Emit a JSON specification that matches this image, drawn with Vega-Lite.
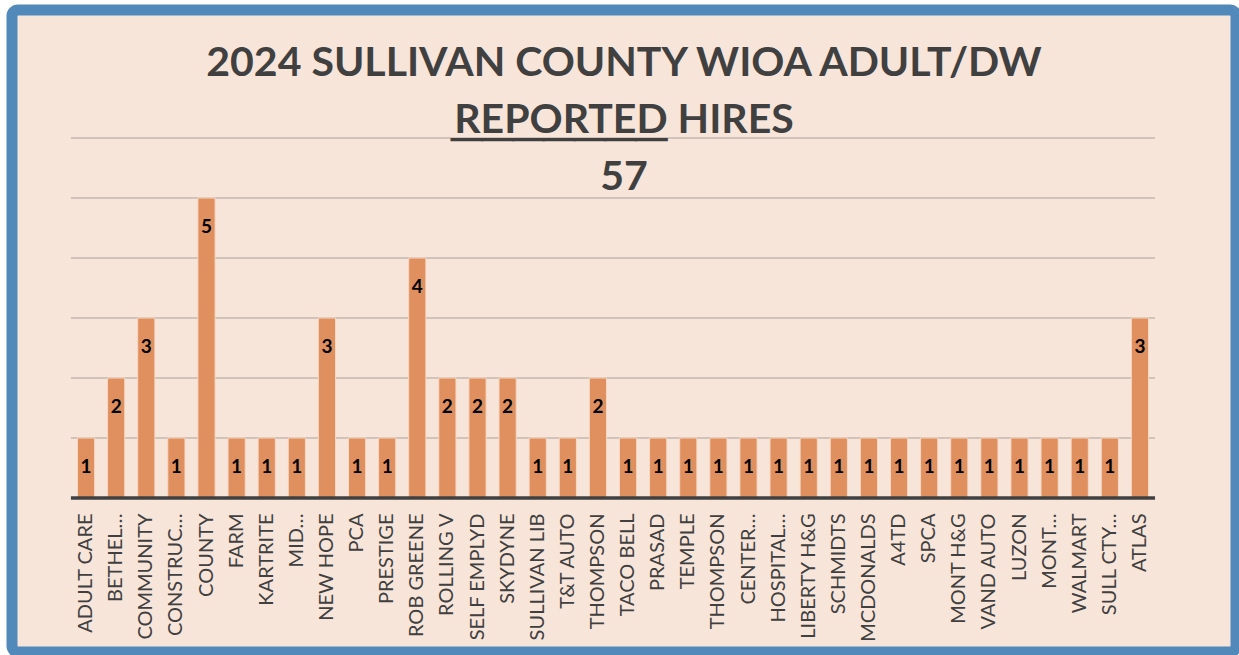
{
  "$schema": "https://vega.github.io/schema/vega-lite/v6.json",
  "width": 1224,
  "height": 642,
  "autosize": {"type": "none"},
  "padding": {"left": 12, "top": 10, "right": 3, "bottom": 3},
  "background": "white",
  "config": {
    "view": {"fill": "#f8e5da", "stroke": "#5189ba", "strokeWidth": 11, "cornerRadius": 6},
    "font": "Lato"
  },
  "title": {
    "text": ["2024 SULLIVAN COUNTY WIOA ADULT/DW", "REPORTED HIRES"],
    "subtitle": ["───────\u2003\u2003\u2003\u2003\u2006\u200b", "57"],
    "font": "Lato",
    "fontSize": 41,
    "fontWeight": "bold",
    "color": "#404040",
    "lineHeight": 57,
    "subtitleFont": "Lato",
    "subtitleFontSize": 41,
    "subtitleFontWeight": "bold",
    "subtitleColor": "#404040",
    "subtitleLineHeight": 38,
    "subtitlePadding": -22,
    "anchor": "middle",
    "baseline": "top",
    "offset": -189
  },
  "datasets": {
    "hires": [
      {"name": "ADULT CARE", "hires": 1},
      {"name": "BETHEL…", "hires": 2},
      {"name": "COMMUNITY", "hires": 3},
      {"name": "CONSTRUC…", "hires": 1},
      {"name": "COUNTY", "hires": 5},
      {"name": "FARM", "hires": 1},
      {"name": "KARTRITE", "hires": 1},
      {"name": "MID…", "hires": 1},
      {"name": "NEW HOPE", "hires": 3},
      {"name": "PCA", "hires": 1},
      {"name": "PRESTIGE", "hires": 1},
      {"name": "ROB GREENE", "hires": 4},
      {"name": "ROLLING V", "hires": 2},
      {"name": "SELF EMPLYD", "hires": 2},
      {"name": "SKYDYNE", "hires": 2},
      {"name": "SULLIVAN LIB", "hires": 1},
      {"name": "T&T AUTO", "hires": 1},
      {"name": "THOMPSON", "hires": 2},
      {"name": "TACO BELL", "hires": 1},
      {"name": "PRASAD", "hires": 1},
      {"name": "TEMPLE", "hires": 1},
      {"name": "THOMPSON\u200b", "hires": 1},
      {"name": "CENTER…", "hires": 1},
      {"name": "HOSPITAL…", "hires": 1},
      {"name": "LIBERTY H&G", "hires": 1},
      {"name": "SCHMIDTS", "hires": 1},
      {"name": "MCDONALDS", "hires": 1},
      {"name": "A4TD", "hires": 1},
      {"name": "SPCA", "hires": 1},
      {"name": "MONT H&G", "hires": 1},
      {"name": "VAND AUTO", "hires": 1},
      {"name": "LUZON", "hires": 1},
      {"name": "MONT…", "hires": 1},
      {"name": "WALMART", "hires": 1},
      {"name": "SULL CTY…", "hires": 1},
      {"name": "ATLAS", "hires": 3}
    ],
    "levels": [
      {"level": 0}, {"level": 1}, {"level": 2}, {"level": 3}, {"level": 4}, {"level": 5}, {"level": 6}
    ]
  },
  "layer": [
    {
      "data": {"name": "levels"},
      "transform": [{"filter": "datum.level > 0"}],
      "mark": {"type": "rule", "color": "#c4b7ae", "strokeWidth": 1.5},
      "encoding": {
        "y": {"field": "level", "type": "quantitative", "scale": {"domain": [-2.567, 8.133], "nice": false, "zero": false}, "axis": null},
        "x": {"datum": "ADULT CARE", "type": "nominal", "bandPosition": -0.38},
        "x2": {"datum": "ATLAS", "bandPosition": 1.38}
      }
    },
    {
      "data": {"name": "hires"},
      "mark": {"type": "bar", "color": "#e08f5e", "stroke": "#f5d8c4", "strokeWidth": 1},
      "encoding": {
        "x": {
          "field": "name",
          "type": "nominal",
          "sort": null,
          "scale": {
            "domain": ["ADULT CARE", "BETHEL…", "COMMUNITY", "CONSTRUC…", "COUNTY", "FARM", "KARTRITE", "MID…", "NEW HOPE", "PCA", "PRESTIGE", "ROB GREENE", "ROLLING V", "SELF EMPLYD", "SKYDYNE", "SULLIVAN LIB", "T&T AUTO", "THOMPSON", "TACO BELL", "PRASAD", "TEMPLE", "THOMPSON\u200b", "CENTER…", "HOSPITAL…", "LIBERTY H&G", "SCHMIDTS", "MCDONALDS", "A4TD", "SPCA", "MONT H&G", "VAND AUTO", "LUZON", "MONT…", "WALMART", "SULL CTY…", "ATLAS"],
            "range": [59, 1143],
            "paddingInner": 0.43,
            "paddingOuter": 0.215
          },
          "axis": {
            "title": null,
            "labelAngle": -90,
            "labelFont": "Lato",
            "labelFontSize": 20,
            "labelColor": "#404040",
            "domain": false,
            "ticks": false,
            "tickSize": 0,
            "grid": false,
            "labelPadding": 15,
            "offset": -154
          }
        },
        "y": {"field": "hires", "type": "quantitative", "axis": null}
      }
    },
    {
      "data": {"name": "levels"},
      "transform": [{"filter": "datum.level == 0"}],
      "mark": {"type": "rule", "color": "#404040", "strokeWidth": 3.5},
      "encoding": {
        "y": {"field": "level", "type": "quantitative", "axis": null},
        "x": {"datum": "ADULT CARE", "type": "nominal", "bandPosition": -0.38},
        "x2": {"datum": "ATLAS", "bandPosition": 1.38}
      }
    },
    {
      "data": {"name": "hires"},
      "mark": {"type": "text", "font": "Lato", "fontWeight": "bold", "fontSize": 19, "color": "black", "baseline": "middle", "dy": 29},
      "encoding": {
        "x": {"field": "name", "type": "nominal", "sort": null},
        "y": {"field": "hires", "type": "quantitative", "axis": null},
        "text": {"field": "hires", "type": "quantitative"}
      }
    }
  ]
}
